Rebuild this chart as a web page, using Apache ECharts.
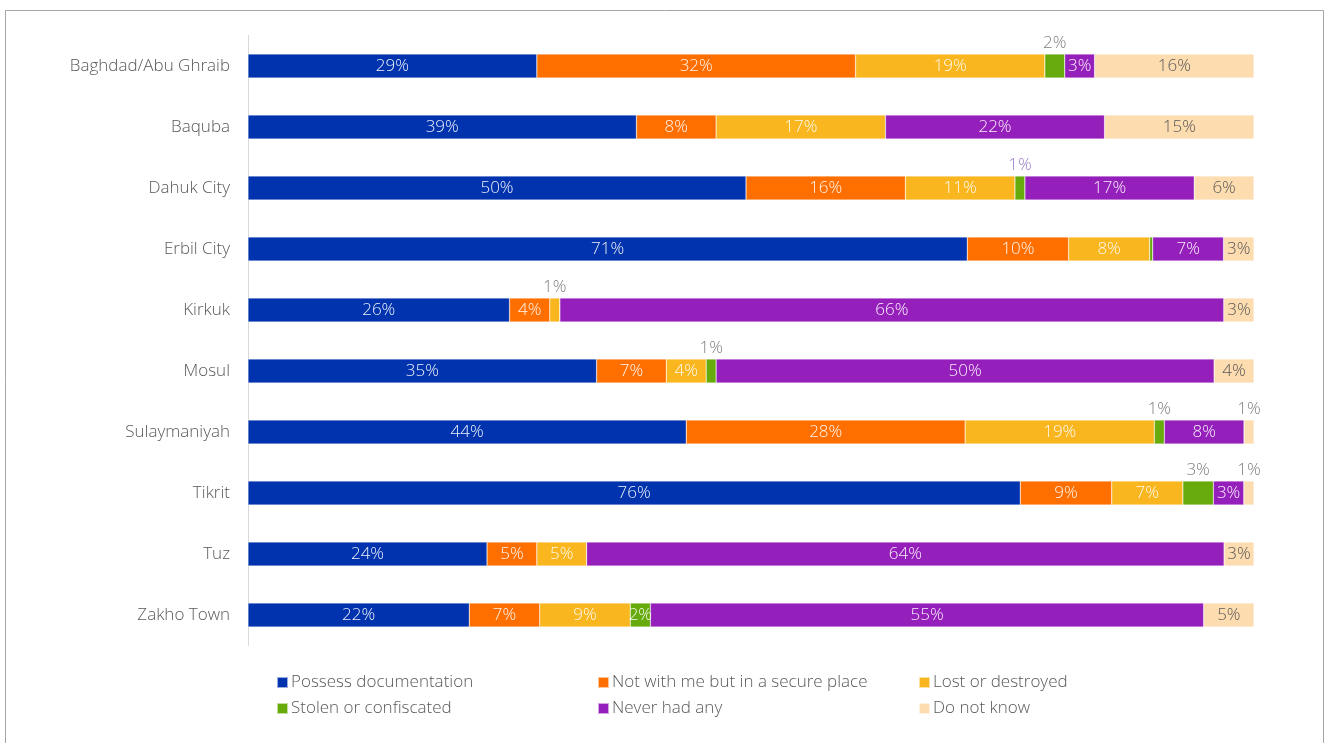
<!DOCTYPE html>
<html>
<head>
<meta charset="utf-8">
<script src="https://cdn.jsdelivr.net/npm/echarts@6/dist/echarts.min.js"></script>
<style>
  html, body { margin: 0; padding: 0; background: #fff; }
  #chart { width: 1325px; height: 743px; }
</style>
</head>
<body>
<div id="chart"></div>
<script>
// Locations, top to bottom
const categories = ['Baghdad/Abu Ghraib', 'Baquba', 'Dahuk City', 'Erbil City', 'Kirkuk',
  'Mosul', 'Sulaymaniyah', 'Tikrit', 'Tuz', 'Zakho Town'];

// Share of respondents (%) per documentation status
const possess     = [29, 39, 50, 71, 26, 35, 44, 76, 24, 22];
const secure      = [32, 8, 16, 10, 4, 7, 28, 9, 5, 7];
const lost        = [19, 17, 11, 8, 1, 4, 19, 7, 5, 9];
const stolen      = [2, 0, 1, 0.3, 0, 1, 1, 3, 0, 2];
const neverHad    = [3, 22, 17, 7, 66, 50, 8, 3, 64, 55];
const doNotKnow   = [16, 15, 6, 3, 3, 4, 1, 1, 3, 5];

const seriesNames = ['Possess documentation', 'Not with me but in a secure place', 'Lost or destroyed',
  'Stolen or confiscated', 'Never had any', 'Do not know'];
const seriesValues = [possess, secure, lost, stolen, neverHad, doNotKnow];
const colors = ['#0033AD', '#FF6F00', '#F9B61E', '#66AA0B', '#951FBA', '#FDDCB0'];

// Narrow segments whose label sits above the bar: [series index, category index]
const labelsAbove = [[3, 0], [3, 2], [2, 4], [3, 5], [3, 6], [5, 6], [3, 7], [5, 7]];

const FONT = '"Open Sans", "Noto Sans", sans-serif';
const FS = 17;

// Each bar fills the full width: segments are drawn as shares of the row total
const rowTotals = categories.map((_, i) => seriesValues.reduce((s, arr) => s + arr[i], 0));

const series = seriesValues.map((vals, si) => ({
  name: seriesNames[si],
  type: 'bar',
  stack: 'total',
  barWidth: 24,
  itemStyle: { color: colors[si], borderColor: 'rgba(255,255,255,0.6)', borderWidth: 0.5 },
  emphasis: { disabled: true },
  data: vals.map((v, ci) => {
    const above = labelsAbove.some(p => p[0] === si && p[1] === ci);
    const insideColor = si === 5 ? '#595959' : 'rgba(255,255,255,0.92)';
    let aboveColor = '#808080';
    if (si === 3 && ci === 2) aboveColor = '#9B7BC9';
    return {
      value: v / rowTotals[ci] * 100,
      label: {
        show: v >= 0.5,
        position: above ? 'top' : 'inside',
        distance: 2,
        formatter: v + '%',
        color: above ? aboveColor : insideColor,
        fontFamily: FONT,
        fontWeight: 300,
        fontSize: FS
      }
    };
  })
}));

const chart = echarts.init(document.getElementById('chart'), null, { renderer: 'canvas' });
chart.setOption({
  animation: false,
  color: colors,
  grid: { left: 248, right: 71, top: 35.5, bottom: 97.5, containLabel: false },
  xAxis: {
    type: 'value', min: 0, max: 100,
    show: false
  },
  yAxis: {
    type: 'category',
    data: categories,
    inverse: true,
    axisLine: { show: true, lineStyle: { color: '#D9D9D9', width: 1 } },
    axisTick: { show: false },
    axisLabel: { color: '#595959', fontFamily: FONT, fontWeight: 300, fontSize: FS, margin: 18 }
  },
  legend: [
    [0, 3], [1, 4], [2, 5]
  ].map((idx, k) => ({
    orient: 'vertical',
    left: [271, 592, 913][k],
    top: 669,
    itemWidth: 11,
    itemHeight: 11,
    itemGap: 9,
    icon: 'rect',
    selectedMode: false,
    data: idx.map(i => seriesNames[i]),
    textStyle: { color: '#595959', fontFamily: FONT, fontWeight: 300, fontSize: FS, padding: [0, 0, 0, -2] }
  })),
  graphic: [{
    type: 'rect',
    left: 3, top: 8,
    shape: { width: 1318, height: 760 },
    style: { fill: 'none', stroke: '#A6A6A6', lineWidth: 1 },
    silent: true
  }],
  series: series
});
</script>
</body>
</html>
